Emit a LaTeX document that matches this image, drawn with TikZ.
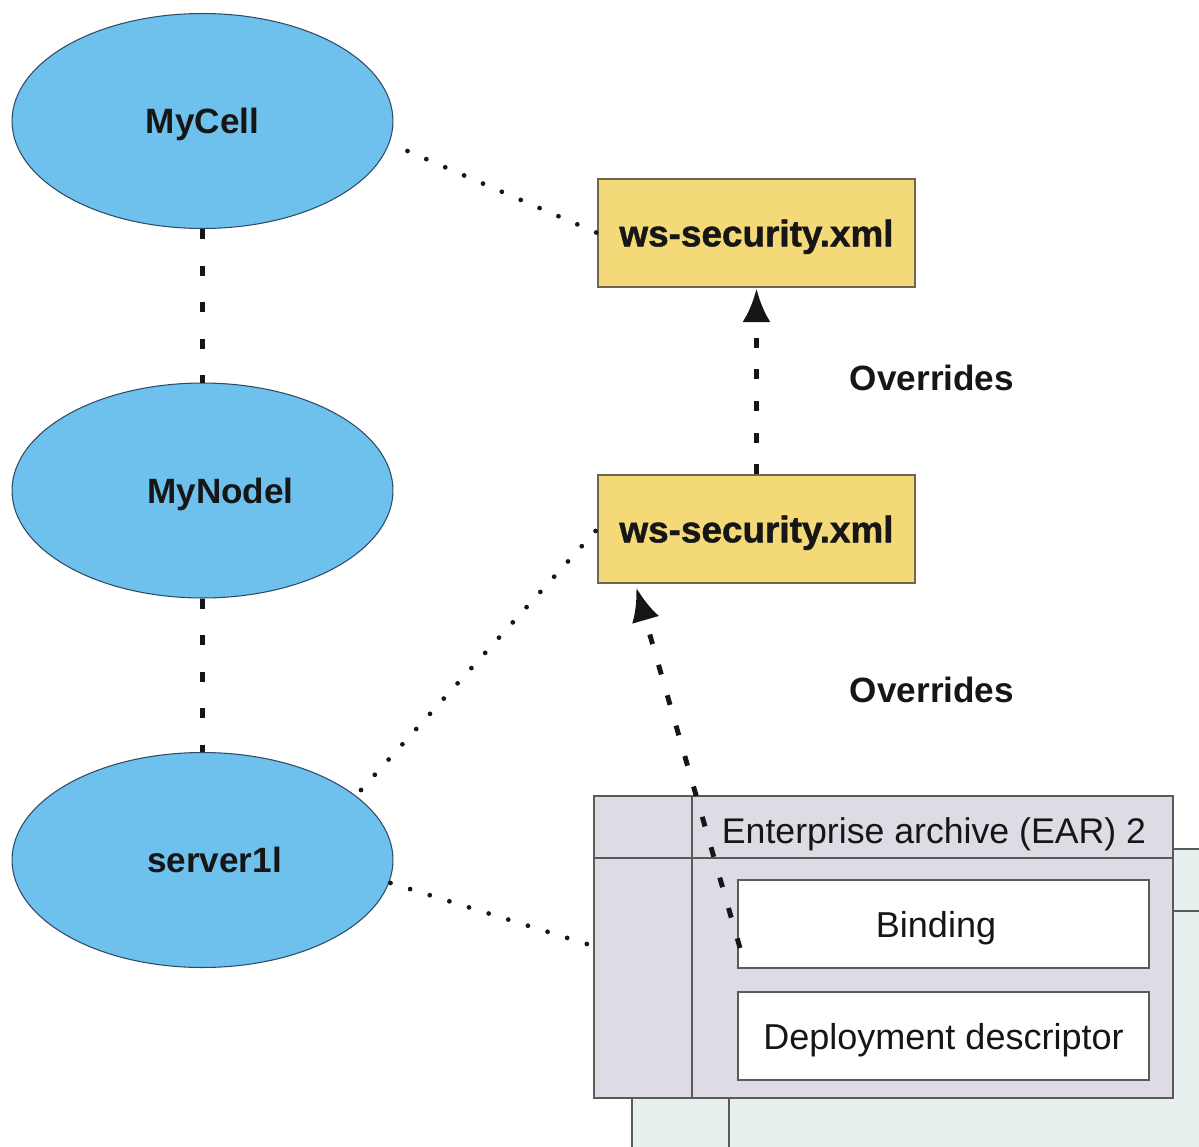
\documentclass[tikz,border=0pt]{standalone}
\usepackage{fontspec}
\setmainfont{Liberation Sans}
\usetikzlibrary{shapes.geometric,arrows.meta,calc}
\definecolor{ellfill}{HTML}{6EC1EC}
\definecolor{ellline}{HTML}{2F4A66}
\definecolor{ywfill}{HTML}{F3D978}
\definecolor{ywline}{HTML}{6E6650}
\definecolor{earfill}{HTML}{DDDBE3}
\definecolor{backfill}{HTML}{E8EFEF}
\definecolor{boxline}{HTML}{5A5A5A}
\definecolor{txt}{HTML}{161616}
\tikzset{
  ell/.style={ellipse, draw=ellline, line width=0.6pt, fill=ellfill, minimum width=7.62cm, minimum height=4.3cm, inner sep=0pt, font=\fontsize{20}{24}\selectfont\bfseries, text=txt, text depth=0pt},
  wsbox/.style={rectangle, draw=ywline, line width=0.8pt, fill=ywfill, minimum width=6.34cm, minimum height=2.16cm, inner sep=0pt, font=\fontsize{21}{24}\selectfont\bfseries\addfontfeature{FakeBold=1.2}, text=txt, text depth=0pt},
  innerbox/.style={rectangle, draw=boxline, line width=0.8pt, fill=white, minimum width=8.22cm, minimum height=1.76cm, inner sep=0pt, font=\fontsize{20.5}{24}\selectfont, text=txt, text depth=0pt},
  dotline/.style={line width=2.7pt, line cap=round, dash pattern=on 0pt off 11.7pt, draw=txt},
  dashline/.style={line width=2.8pt, dash pattern=on 5.7pt off 15.1pt, draw=txt},
  arrdash/.style={line width=2.8pt, dash pattern=on 5.7pt off 12.3pt, draw=txt},
  lbl/.style={font=\fontsize{20}{24}\selectfont\bfseries, text=txt, text depth=0pt},
  arrtip/.style={-{Latex[length=19pt,width=16pt]}}
}
\begin{document}
\begin{tikzpicture}[x=0.02cm,y=-0.02cm]
\useasboundingbox (0,0) rectangle (1199,1146);
\clip (0,0) rectangle (1199,1146);
\fill[white] (0,0) rectangle (1199,1146);

% back EAR box
\draw[boxline, line width=0.8pt, fill=backfill] (632,849) rectangle (1230,1180);
\draw[boxline, line width=0.8pt] (632,911) -- (1230,911);
\draw[boxline, line width=0.8pt] (729,849) -- (729,1180);

% front EAR box
\node[rectangle, draw=boxline, line width=0.8pt, fill=earfill, minimum width=11.58cm, minimum height=6.04cm, inner sep=0pt] (ear) at (883.5,947) {};
\draw[boxline, line width=0.8pt] (594,858) -- (1173,858);
\draw[boxline, line width=0.8pt] (692,796) -- (692,1098);
\node[font=\fontsize{20.3}{24}\selectfont, text=txt, text depth=0pt] (eartitle) at (934,831) {Enterprise archive (EAR) 2};
\node[innerbox, label={[name=bindtxt, font=\fontsize{20.5}{24}\selectfont, text=txt, text depth=0pt, xshift=-0.15cm]center:Binding}] (bind) at (943.5,924) {};
\node[innerbox] (depl) at (943.5,1036) {Deployment descriptor};

% ellipses
\node[ell] (mycell) at (202.5,121) {MyCell};
\node[ell, label={[name=nodetxt, lbl, xshift=0.36cm]center:MyNodel}] (mynode) at (202.5,490.5) {};
\node[ell, label={[name=servtxt, lbl, xshift=0.24cm]center:server1l}] (server) at (202.5,860) {};

% ws-security boxes
\node[wsbox] (ws1) at (756.5,233) {ws-security.xml};
\node[wsbox] (ws2) at (756.5,529) {ws-security.xml};

% labels
\node[lbl] (ov1) at (932,378) {Overrides};
\node[lbl] (ov2) at (932,690) {Overrides};

% vertical dashed between ellipses
\draw[dashline] (mycell.south) -- (mynode.north);
\draw[dashline] (mynode.south) -- (server.north);

% dotted connectors
\coordinate (c1) at ($(mycell.east)+(14,30)$);
\draw[dotline] (c1) -- (ws1.west);
\coordinate (c2) at (361,790);
\draw[dotline] (c2) -- (ws2.west);
\coordinate (c3) at ($(server.east)+(-3,23)$);
\draw[dotline] (c3) -- (ear.west |- 0,946);

% override arrows
\draw[arrdash, arrtip] (ws2.north) -- ($(ws1.south)+(0,1)$);
\coordinate (a2s) at (740,948);
\coordinate (a2e) at ($(ws2.south west)+(39,4)$);
\draw[arrdash, arrtip] (a2s) -- (a2e);
\end{tikzpicture}
\end{document}
